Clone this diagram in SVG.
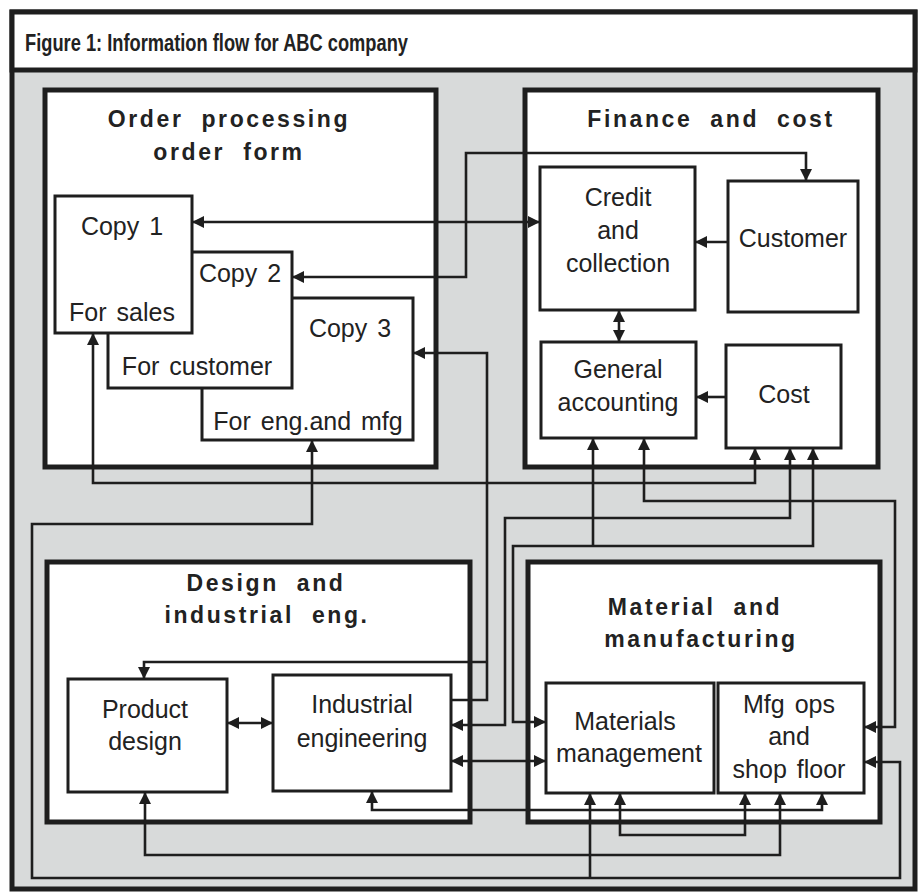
<svg xmlns="http://www.w3.org/2000/svg" width="921" height="893" viewBox="0 0 921 893">
<defs>
<style>
.frame{fill:#d8dada;stroke:#1e1e1e;stroke-width:5}
.sec{fill:#fff;stroke:#1e1e1e;stroke-width:5}
.nd{fill:#fff;stroke:#1e1e1e;stroke-width:3}
.cn{fill:none;stroke:#1e1e1e;stroke-width:2.6}
.h{font-family:"Liberation Sans",Arial,sans-serif;font-weight:bold;font-size:23px;letter-spacing:2.6px;word-spacing:9px;fill:#222;text-anchor:middle}
.t{font-family:"Liberation Sans",Arial,sans-serif;font-size:25px;word-spacing:3px;fill:#222;text-anchor:middle}
.ti{font-family:"Liberation Sans",Arial,sans-serif;font-weight:bold;font-size:23px;fill:#222}
</style>
<marker id="ah" viewBox="0 0 12 12" refX="12" refY="6" markerWidth="12" markerHeight="12" markerUnits="userSpaceOnUse" orient="auto-start-reverse"><path d="M0,0 L12,6 L0,12 z" fill="#1e1e1e"/></marker>
</defs>

<g id="frame">
<rect class="frame" x="12" y="12" width="903" height="877"/>
<rect x="12" y="12" width="903" height="58" fill="#fff" stroke="#1e1e1e" stroke-width="5"/>
<text class="ti" x="25" y="51" textLength="383" lengthAdjust="spacingAndGlyphs">Figure 1: Information flow for ABC company</text>
</g>

<g id="order-processing">
<rect class="sec" x="45" y="90" width="391" height="377"/>
<text class="h" x="229" y="127">Order processing</text>
<text class="h" x="229" y="160">order form</text>
</g>
<g id="finance">
<rect class="sec" x="525" y="90" width="353" height="377"/>
<text class="h" x="711" y="127">Finance and cost</text>
</g>
<g id="design">
<rect class="sec" x="47" y="562" width="423" height="260"/>
<text class="h" x="266" y="591">Design and</text>
<text class="h" x="267" y="623">industrial eng.</text>
</g>
<g id="material">
<rect class="sec" x="528" y="562" width="352" height="260"/>
<text class="h" x="695" y="615">Material and</text>
<text class="h" x="701" y="647">manufacturing</text>
</g>

<g id="copy3">
<rect class="nd" x="202" y="298" width="211" height="142"/>
<text class="t" x="350" y="337">Copy 3</text>
<text class="t" x="308" y="430">For eng.and mfg</text>
</g>
<g id="copy2">
<rect class="nd" x="108" y="252" width="184" height="136"/>
<text class="t" x="240" y="282">Copy 2</text>
<text class="t" x="197" y="375">For customer</text>
</g>
<g id="copy1">
<rect class="nd" x="55" y="196" width="137" height="137"/>
<text class="t" x="122" y="235">Copy 1</text>
<text class="t" x="122" y="321">For sales</text>
</g>

<g id="credit">
<rect class="nd" x="540" y="167" width="155" height="143"/>
<text class="t" x="618" y="206">Credit</text>
<text class="t" x="618" y="239">and</text>
<text class="t" x="618" y="272">collection</text>
</g>
<g id="customer">
<rect class="nd" x="728" y="181" width="130" height="131"/>
<text class="t" x="793" y="247">Customer</text>
</g>
<g id="general-accounting">
<rect class="nd" x="541" y="342" width="155" height="96"/>
<text class="t" x="618" y="378">General</text>
<text class="t" x="618" y="411">accounting</text>
</g>
<g id="cost">
<rect class="nd" x="726" y="345" width="115" height="103"/>
<text class="t" x="784" y="403">Cost</text>
</g>

<g id="product-design">
<rect class="nd" x="68" y="679" width="159" height="113"/>
<text class="t" x="145" y="718">Product</text>
<text class="t" x="145" y="750">design</text>
</g>
<g id="industrial-engineering">
<rect class="nd" x="273" y="675" width="178" height="116"/>
<text class="t" x="362" y="713">Industrial</text>
<text class="t" x="362" y="747">engineering</text>
</g>
<g id="materials-management">
<rect class="nd" x="546" y="683" width="168" height="110"/>
<text class="t" x="625" y="730">Materials</text>
<text class="t" x="629" y="762">management</text>
</g>
<g id="mfg-ops">
<rect class="nd" x="718" y="683" width="146" height="110"/>
<text class="t" x="789" y="713">Mfg ops</text>
<text class="t" x="789" y="745">and</text>
<text class="t" x="789" y="778">shop floor</text>
</g>

<g id="connectors" class="cn">
<path class="cn" d="M192,222 H540" marker-start="url(#ah)" marker-end="url(#ah)"/>
<path class="cn" d="M292,277 H466 V153 H806 V181" marker-start="url(#ah)" marker-end="url(#ah)"/>
<path class="cn" d="M451,700 H487 V353 H413" marker-end="url(#ah)"/>
<path class="cn" d="M487,662 H144 V679" marker-end="url(#ah)"/>
<path class="cn" d="M93,333 V483 H755 V448" marker-start="url(#ah)" marker-end="url(#ah)"/>
<path class="cn" d="M312,440 V524 H32 V878 H900 V762 H864" marker-start="url(#ah)" marker-end="url(#ah)"/>
<path class="cn" d="M590,878 V793" marker-end="url(#ah)"/>
<path class="cn" d="M644,438 V501 H895 V727 H864" marker-start="url(#ah)" marker-end="url(#ah)"/>
<path class="cn" d="M451,725 H505 V518 H790 V448" marker-start="url(#ah)" marker-end="url(#ah)"/>
<path class="cn" d="M546,722 H513 V546 H813 V448" marker-start="url(#ah)" marker-end="url(#ah)"/>
<path class="cn" d="M593,546 V438" marker-end="url(#ah)"/>
<path class="cn" d="M451,761 H546" marker-start="url(#ah)" marker-end="url(#ah)"/>
<path class="cn" d="M372,791 V810 H822 V793" marker-start="url(#ah)" marker-end="url(#ah)"/>
<path class="cn" d="M620,793 V835 H745 V793" marker-start="url(#ah)" marker-end="url(#ah)"/>
<path class="cn" d="M145,792 V855 H780 V793" marker-start="url(#ah)" marker-end="url(#ah)"/>
<path class="cn" d="M227,723 H273" marker-start="url(#ah)" marker-end="url(#ah)"/>
<path class="cn" d="M619,310 V342" marker-start="url(#ah)" marker-end="url(#ah)"/>
<path class="cn" d="M728,242 H695" marker-end="url(#ah)"/>
<path class="cn" d="M726,397 H696" marker-end="url(#ah)"/>
</g>
</svg>
